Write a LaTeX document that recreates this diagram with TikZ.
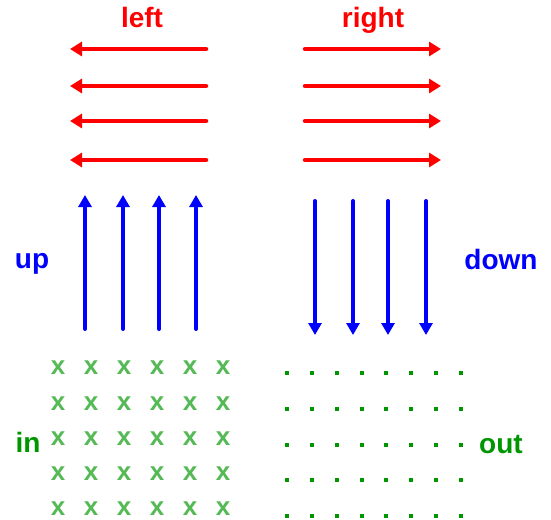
\documentclass[tikz,border=0pt]{standalone}
\usepackage{fontspec}
\setmainfont{Liberation Sans}
\usetikzlibrary{arrows.meta}
\definecolor{myred}{RGB}{255,0,0}
\definecolor{myblue}{RGB}{0,0,255}
\definecolor{darkgrn}{RGB}{0,150,0}
\definecolor{lightgrn}{RGB}{85,185,85}
\begin{document}
\begin{tikzpicture}[x=1pt,y=-1pt,
  lbl/.style={font=\bfseries\fontsize{28}{30}\selectfont, inner sep=0pt, anchor=base},
  redarrow/.style={myred, line width=4.5pt, line cap=round, -{Triangle[length=12pt,width=14pt]}},
  bluearrow/.style={myblue, line width=4pt, line cap=round, -{Triangle[length=12pt,width=13pt]}},
  xmark/.style={text=lightgrn, font=\bfseries\fontsize{26}{26}\selectfont, inner sep=0pt},
  dotmark/.style={fill=darkgrn, rectangle, minimum size=4pt, inner sep=0pt}]
\useasboundingbox (0,0) rectangle (551,519);
% labels
\node[lbl, text=myred] (lleft) at (142,28) {left};
\node[lbl, text=myred] (lright) at (373,28) {right};
\node[lbl, text=myblue] (lup) at (32,268) {up};
\node[lbl, text=myblue] (ldown) at (501,269) {down};
\node[lbl, text=darkgrn] (lin) at (28,452) {in};
\node[lbl, text=darkgrn] (lout) at (501,453) {out};
% horizontal arrows
\foreach \y [count=\i] in {49,86,121,160}{
  \coordinate (ls\i) at (206,\y);
  \coordinate (le\i) at (70,\y);
  \draw[redarrow] (ls\i) -- (le\i);
  \coordinate (rs\i) at (305,\y);
  \coordinate (re\i) at (441,\y);
  \draw[redarrow] (rs\i) -- (re\i);
}
% vertical arrows
\foreach \x [count=\i] in {85,123,159,196}{
  \coordinate (us\i) at (\x,329);
  \coordinate (ue\i) at (\x,195);
  \draw[bluearrow] (us\i) -- (ue\i);
}
\foreach \x [count=\i] in {315,353,388,426}{
  \coordinate (ds\i) at (\x,201);
  \coordinate (de\i) at (\x,335);
  \draw[bluearrow] (ds\i) -- (de\i);
}
% in: crosses
\foreach \r in {0,...,4}{
  \foreach \c in {0,...,5}{
    \node[xmark] (x\r\c) at ({58+33*\c},{368+35.2*\r}) {x};
  }
}
% out: dots
\foreach \r in {0,...,4}{
  \foreach \c in {0,...,7}{
    \node[dotmark] (d\r\c) at ({287+24.86*\c},{373.3+35.6*\r}) {};
  }
}
\end{tikzpicture}
\end{document}
